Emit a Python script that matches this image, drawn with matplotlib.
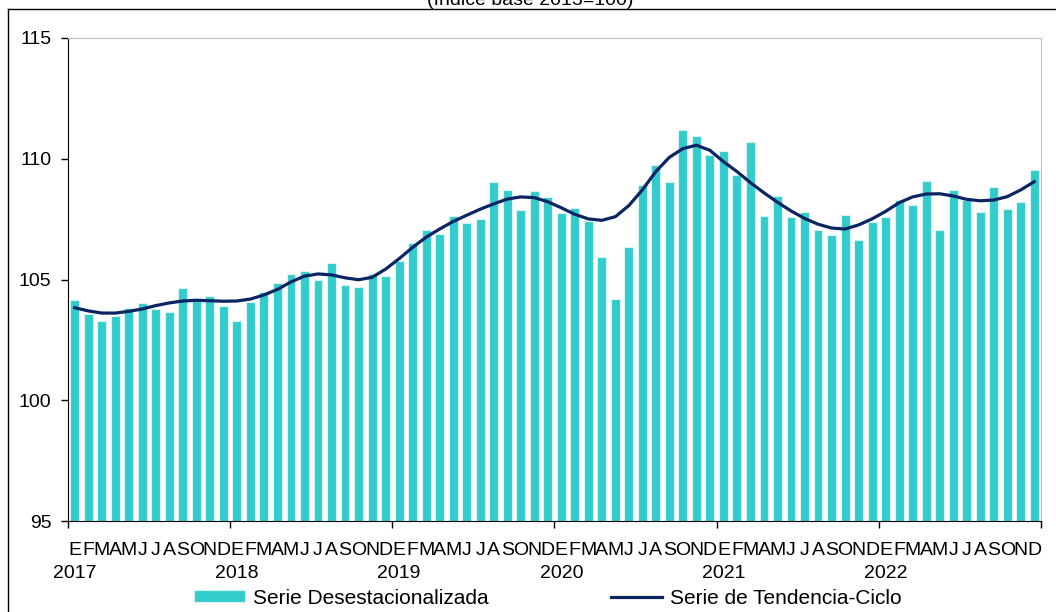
import matplotlib.pyplot as plt
from matplotlib.lines import Line2D

plt.rcParams['font.family'] = ['Liberation Sans', 'DejaVu Sans']

years = ['2017', '2018', '2019', '2020', '2021', '2022']
month_letters = ['E', 'F', 'M', 'A', 'M', 'J', 'J', 'A', 'S', 'O', 'N', 'D']

serie_desest = [
    104.15, 103.56, 103.28, 103.49, 103.80, 104.03, 103.78, 103.64, 104.66, 104.11, 104.32, 103.92,
    103.30, 104.05, 104.50, 104.84, 105.21, 105.36, 104.98, 105.68, 104.79, 104.69, 105.23, 105.16,
    105.77, 106.52, 107.05, 106.90, 107.63, 107.33, 107.52, 109.05, 108.71, 107.86, 108.66, 108.42,
    107.74, 107.96, 107.44, 105.93, 104.19, 106.33, 108.90, 109.73, 109.05, 111.20, 110.95, 110.17,
    110.34, 109.31, 110.69, 107.63, 108.44, 107.60, 107.81, 107.06, 106.83, 107.66, 106.64, 107.40,
    107.60, 108.28, 108.07, 109.07, 107.05, 108.70, 108.31, 107.81, 108.85, 107.92, 108.22, 109.53,
]

serie_tendencia = [
    103.83, 103.70, 103.61, 103.61, 103.68, 103.78, 103.92, 104.03, 104.11, 104.14, 104.12, 104.10,
    104.11, 104.19, 104.36, 104.59, 104.90, 105.14, 105.23, 105.19, 105.07, 104.99, 105.09, 105.43,
    105.86, 106.33, 106.75, 107.09, 107.40, 107.66, 107.91, 108.13, 108.33, 108.42, 108.39, 108.22,
    107.97, 107.70, 107.51, 107.45, 107.60, 108.06, 108.71, 109.47, 110.06, 110.42, 110.56, 110.35,
    109.88, 109.47, 109.01, 108.59, 108.20, 107.84, 107.53, 107.29, 107.13, 107.09, 107.26, 107.51,
    107.82, 108.18, 108.42, 108.54, 108.55, 108.46, 108.32, 108.26, 108.29, 108.43, 108.71, 109.05,
]

W, H = 1056, 612
fig = plt.figure(figsize=(W / 100, H / 100), dpi=100)
ax = fig.add_axes([68 / W, 1 - 521 / H, 973 / W, 483 / H])

x = list(range(len(serie_desest)))
bars = ax.bar(x, serie_desest, width=0.66, color='#33CCCC', edgecolor='#D8F4F4', linewidth=0.8,
              label='Serie Desestacionalizada', zorder=2)
line, = ax.plot(x, serie_tendencia, color='#0B2463', lw=2.3, label='Serie de Tendencia-Ciclo', zorder=3)

ax.set_xlim(-0.5, len(x) - 0.5)
ax.set_ylim(95, 115)
ax.set_yticks([95, 100, 105, 110, 115])
ax.tick_params(axis='y', direction='out', length=5, width=1, labelsize=14, pad=7, colors='black')

# year boundaries as major ticks, month letters as minor tick labels
ax.set_xticks([k * 12 - 0.5 for k in range(len(years) + 1)])
ax.set_xticklabels([])
ax.tick_params(axis='x', which='major', direction='out', length=5, width=1)
ax.set_xticks(x, minor=True)
ax.set_xticklabels(month_letters * len(years), minor=True)
ax.tick_params(axis='x', which='minor', length=0, labelsize=14, pad=15)
for k, yr in enumerate(years):
    ax.text(k * 12, -0.091, yr, transform=ax.get_xaxis_transform(),
            ha='center', va='top', fontsize=14)

ax.spines['left'].set_color('black')
ax.spines['bottom'].set_color('black')
ax.spines['top'].set_color('#BFBFBF')
ax.spines['right'].set_color('#BFBFBF')

fig.legend([bars, line], ['Serie Desestacionalizada', 'Serie de Tendencia-Ciclo'],
           loc='center left', bbox_to_anchor=(194 / W, 1 - 598 / H), ncol=2, frameon=False,
           fontsize=15, handlelength=2.45, handleheight=0.5, columnspacing=5.9,
           handletextpad=0.37, borderpad=0, borderaxespad=0)

# cut-off title and outer frame of the original image
fig.text(530 / W, 1 - 5 / H, '(Índice base 2013=100)', ha='center', va='baseline', fontsize=14)
fig.add_artist(Line2D([8 / W, 1.0], [1 - 9 / H, 1 - 9 / H], color='black', lw=1))
fig.add_artist(Line2D([8 / W, 8 / W], [0.0, 1 - 9 / H], color='black', lw=1))

fig.savefig('out.png', dpi=100)
